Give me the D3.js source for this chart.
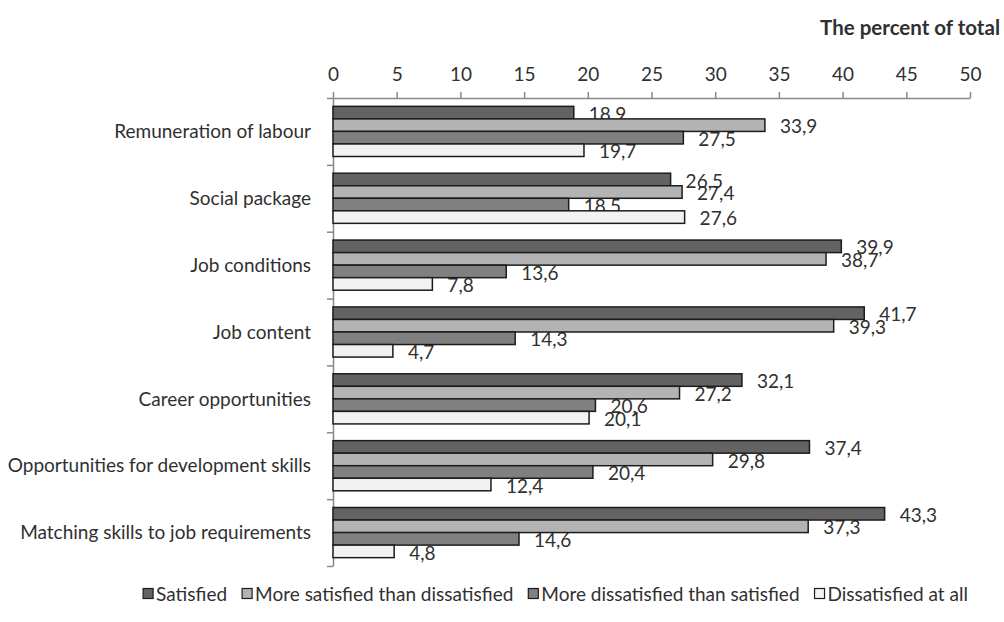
<!DOCTYPE html>
<html>
<head>
<meta charset="utf-8">
<script src="https://cdn.jsdelivr.net/npm/d3@7/dist/d3.min.js"></script>
<style>
  html, body { margin: 0; padding: 0; background: #fff; }
  svg { display: block; font-family: Lato, "Open Sans", sans-serif; }
</style>
</head>
<body>
<svg id="chart" width="1004" height="622"></svg>
<script>
// Job satisfaction by aspect, percent of respondents
const categories = [
  "Remuneration of labour",
  "Social package",
  "Job conditions",
  "Job content",
  "Career opportunities",
  "Opportunities for development skills",
  "Matching skills to job requirements"
];
const seriesNames = [
  "Satisfied",
  "More satisfied than dissatisfied",
  "More dissatisfied than satisfied",
  "Dissatisfied at all"
];
const satisfied          = [18.9, 26.5, 39.9, 41.7, 32.1, 37.4, 43.3];
const moreSatisfied      = [33.9, 27.4, 38.7, 39.3, 27.2, 29.8, 37.3];
const moreDissatisfied   = [27.5, 18.5, 13.6, 14.3, 20.6, 20.4, 14.6];
const dissatisfiedAtAll  = [19.7, 27.6,  7.8,  4.7, 20.1, 12.4,  4.8];
const seriesValues = [satisfied, moreSatisfied, moreDissatisfied, dissatisfiedAtAll];
const xTicks = [0, 5, 10, 15, 20, 25, 30, 35, 40, 45, 50];
const axisTitle = "The percent of total";

const fills = ["#636363", "#b3b3b3", "#808080", "#f2f2f2"];
const textColor = "#303030";
const axisColor = "#888888";
const fontSize = 19;

const svg = d3.select("#chart");

const x = d3.scaleLinear().domain([0, 50]).range([333, 970]);
const y = d3.scaleBand().domain(categories).range([98, 566])
  .paddingInner(0.25).paddingOuter(0.125);
const ySub = d3.scaleBand().domain(d3.range(seriesNames.length))
  .range([0, y.bandwidth()]);

const comma = d3.formatLocale({ decimal: ",", thousands: " ", grouping: [3], currency: ["", ""] });
const fmt = comma.format(".1f");

// axis title
svg.append("text")
  .attr("x", 1000).attr("y", 35)
  .attr("text-anchor", "end")
  .attr("font-weight", "bold")
  .attr("font-size", 20.5)
  .attr("fill", textColor)
  .text(axisTitle);

// value axis along the top
const xAxis = svg.append("g")
  .attr("transform", "translate(0,98)")
  .call(d3.axisTop(x).tickValues(xTicks).tickSize(6).tickSizeOuter(0).tickPadding(11));
xAxis.select(".domain").attr("stroke", axisColor).attr("stroke-width", 1.5);
xAxis.selectAll(".tick line").attr("stroke", axisColor).attr("stroke-width", 1.5);
xAxis.selectAll(".tick text")
  .attr("font-size", fontSize).attr("font-family", "Lato, sans-serif")
  .attr("fill", textColor);

// category axis with ticks at group boundaries
const yEdge = d3.scaleLinear().domain([0, categories.length]).range([98, 566]);
const yAxis = svg.append("g")
  .attr("transform", "translate(333,0)")
  .call(d3.axisLeft(yEdge).tickValues(d3.range(categories.length + 1))
    .tickFormat("").tickSize(6).tickSizeOuter(0));
yAxis.select(".domain").attr("stroke", axisColor).attr("stroke-width", 1.5);
yAxis.selectAll(".tick line").attr("stroke", axisColor).attr("stroke-width", 1.5);

svg.append("g").selectAll("text")
  .data(categories)
  .join("text")
  .attr("x", 311)
  .attr("y", d => y(d) + y.bandwidth() / 2)
  .attr("dy", "0.35em")
  .attr("text-anchor", "end")
  .attr("font-size", fontSize)
  .attr("fill", textColor)
  .text(d => d);

// value labels sit underneath the bars
const labels = svg.append("g");
const bars = svg.append("g");

seriesValues.forEach((vals, si) => {
  const rows = categories.map((c, i) => ({ c, v: vals[i] }));
  labels.selectAll(null)
    .data(rows)
    .join("text")
    .attr("x", d => x(d.v) + 15)
    .attr("y", d => y(d.c) + ySub(si) + ySub.bandwidth() / 2 + 1.5)
    .attr("dy", "0.35em")
    .attr("font-size", fontSize)
    .attr("fill", textColor)
    .text(d => fmt(d.v));
  bars.selectAll(null)
    .data(rows)
    .join("rect")
    .attr("x", x(0))
    .attr("y", d => y(d.c) + ySub(si))
    .attr("width", d => x(d.v) - x(0))
    .attr("height", ySub.bandwidth())
    .attr("fill", fills[si])
    .attr("stroke", "#1c1c1c")
    .attr("stroke-width", 1.5);
});

// legend, laid out from measured text widths and centred
const legend = svg.append("g").attr("transform", "translate(0,594)");
const items = legend.selectAll("g").data(seriesNames).join("g");
items.append("rect")
  .attr("x", 0).attr("y", -5.5).attr("width", 10).attr("height", 10)
  .attr("fill", (d, i) => fills[i])
  .attr("stroke", "#1c1c1c").attr("stroke-width", 1.2);
items.append("text")
  .attr("x", 13).attr("dy", "0.35em")
  .attr("font-size", fontSize)
  .attr("fill", textColor)
  .text(d => d);
const widths = items.nodes().map(n => n.getBBox().width);
const gap = 15;
const total = d3.sum(widths) + gap * (widths.length - 1);
let cursor = 555.5 - total / 2;
items.attr("transform", (d, i) => {
  const tx = cursor;
  cursor += widths[i] + gap;
  return `translate(${tx},0)`;
});
</script>
</body>
</html>
